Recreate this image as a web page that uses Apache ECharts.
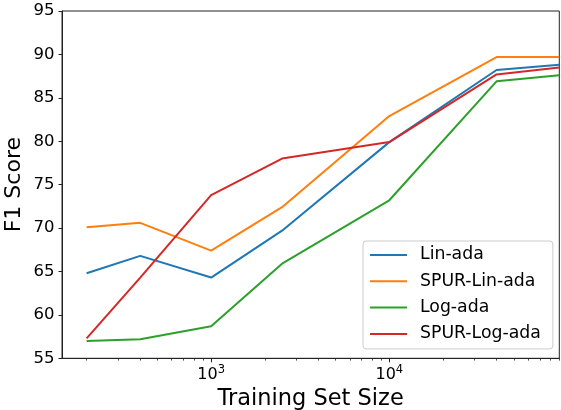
<!DOCTYPE html>
<html>
<head>
<meta charset="utf-8">
<script src="https://cdn.jsdelivr.net/npm/echarts@6/dist/echarts.min.js"></script>
<style>
html,body{margin:0;padding:0;background:#fff;}
#chart{width:561px;height:410px;}
</style>
</head>
<body>
<div id="chart"></div>
<script>
var trainingSizes = [200, 400, 1000, 2500, 10000, 40000, 90000];
var linAda      = [64.8, 66.8, 64.3, 69.7, 79.9, 88.2, 88.8];
var spurLinAda  = [70.1, 70.6, 67.4, 72.4, 82.9, 89.7, 89.7];
var logAda      = [57.0, 57.2, 58.7, 65.9, 73.2, 86.9, 87.6];
var spurLogAda  = [57.3, 64.3, 73.8, 78.0, 79.9, 87.7, 88.5];
var seriesNames = ['Lin-ada', 'SPUR-Lin-ada', 'Log-ada', 'SPUR-Log-ada'];
var colors = ['#1f77b4', '#ff7f0e', '#2ca02c', '#d62728'];
var majorTicks = [1000, 10000];
var majorExponents = {1000: '3', 10000: '4'};
var minorTicks = [200,300,400,500,600,700,800,900,2000,3000,4000,5000,6000,7000,8000,9000,20000,30000,40000,50000,60000,70000,80000,90000];
var yTicks = [55, 60, 65, 70, 75, 80, 85, 90, 95];

var font = 'DejaVu Sans';
function pairs(vals){ return trainingSizes.map(function(x,i){ return [x, vals[i]]; }); }
var allVals = [linAda, spurLinAda, logAda, spurLogAda];

var chart = echarts.init(document.getElementById('chart'), null, {renderer:'canvas'});
var xMin = 145.5, xMax = 90000;
chart.setOption({
  animation: false,
  backgroundColor: '#fff',
  textStyle: {fontFamily: font},
  grid: {left: 62, right: 1.7, top: 11, bottom: 51.7, show: true, borderColor: '#222', borderWidth: 1,
    backgroundColor: 'transparent', containLabel: false, outerBoundsMode: 'none'},
  legend: {
    orient: 'vertical', left: 363, top: 241,
    data: seriesNames,
    icon: 'rect', itemWidth: 37, itemHeight: 2, itemGap: 6.3,
    padding: [4, 12, 5, 7],
    backgroundColor: 'rgba(255,255,255,0.8)',
    borderColor: '#cccccc', borderWidth: 1, borderRadius: 3,
    textStyle: {fontFamily: font, fontSize: 17.3, color: '#000', lineHeight: 20, padding: [0,0,0,8]},
    z: 10
  },
  xAxis: [{
    type: 'log', logBase: 10, min: xMin, max: xMax, position: 'bottom',
    name: 'Training Set Size', nameLocation: 'middle', nameGap: 29, nameMoveOverlap: false,
    nameTextStyle: {fontFamily: font, fontSize: 22.5, color: '#000'},
    axisLine: {show: true, onZero: false, lineStyle: {color: '#222', width: 1}},
    axisTick: {show: true, inside: false, length: 4, customValues: majorTicks, lineStyle: {color: '#222', width: 1}},
    axisLabel: {show: true, customValues: majorTicks, margin: 5.8, fontFamily: font, color: '#000',
      formatter: function(v){ var k = Math.round(v); return majorExponents[k] ? '{b|10}{s|' + majorExponents[k] + '}' : ''; },
      rich: {
        b: {fontFamily: font, fontSize: 16, lineHeight: 22, color: '#000'},
        s: {fontFamily: font, fontSize: 11.5, lineHeight: 11.5, verticalAlign: 'top', color: '#000'}
      }},
    splitLine: {show: false}, minorTick: {show: false}
  }, {
    type: 'log', logBase: 10, min: xMin, max: xMax, position: 'bottom',
    axisLine: {show: false, onZero: false},
    axisTick: {show: true, inside: false, length: 2.3, customValues: minorTicks, lineStyle: {color: '#222', width: 0.8}},
    axisLabel: {show: false},
    splitLine: {show: false}
  }],
  yAxis: {
    type: 'value', min: 55, max: 95, interval: 5,
    name: 'F1 Score', nameLocation: 'middle', nameGap: 36.5, nameRotate: 90, nameMoveOverlap: false,
    nameTextStyle: {fontFamily: font, fontSize: 22, color: '#000'},
    axisLine: {show: true, onZero: false, lineStyle: {color: '#222', width: 1}},
    axisTick: {show: true, inside: false, length: 3.5, lineStyle: {color: '#222', width: 1}},
    axisLabel: {margin: 7.5, fontFamily: font, fontSize: 16.5, color: '#000',
      customValues: yTicks},
    splitLine: {show: false}
  },
  series: seriesNames.map(function(n, i){
    return {
      name: n, type: 'line', xAxisIndex: 0, data: pairs(allVals[i]),
      symbol: 'none', showSymbol: false,
      lineStyle: {color: colors[i], width: 2},
      itemStyle: {color: colors[i]},
      z: 2 + i
    };
  })
});
</script>
</body>
</html>
